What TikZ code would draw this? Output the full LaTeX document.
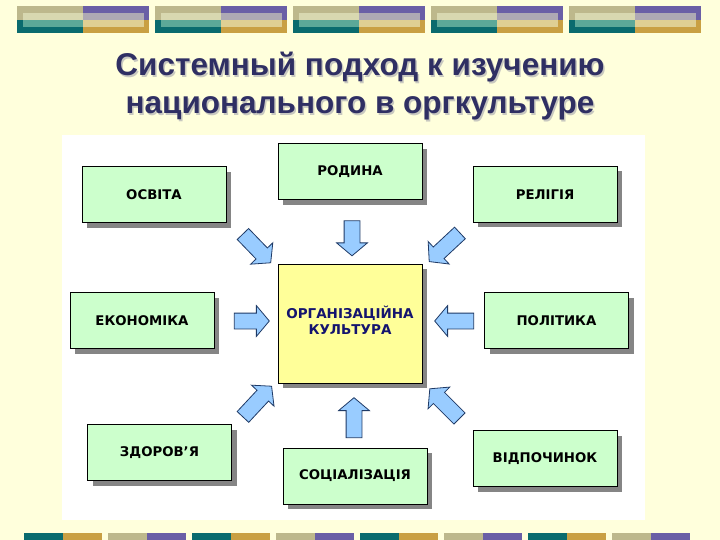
\documentclass[tikz,border=0pt]{standalone}
\usepackage{fontspec}
\setmainfont{Liberation Sans}
\newfontfamily\boxfont{DejaVu Sans}
\usetikzlibrary{shapes.arrows,shadows}
\definecolor{bg}{HTML}{FFFFDC}
\definecolor{boxgreen}{HTML}{CCFFCC}
\definecolor{boxyellow}{HTML}{FFFF99}
\definecolor{shadowgray}{HTML}{858585}
\definecolor{arrowblue}{HTML}{99CCFF}
\definecolor{arrowline}{HTML}{1F3A66}
\definecolor{titlecol}{HTML}{2F2F63}
\definecolor{titleshadow}{HTML}{C8C8C0}
\definecolor{orgtext}{HTML}{14146E}
\definecolor{khaki}{HTML}{BDB88C}
\definecolor{lkhaki}{HTML}{D8D8B0}
\definecolor{teal}{HTML}{0A6B6E}
\definecolor{lteal}{HTML}{5CA898}
\definecolor{purp}{HTML}{6A5FA6}
\definecolor{lpurp}{HTML}{AEA9B4}
\definecolor{gold}{HTML}{C9A043}
\definecolor{lgold}{HTML}{DFCF93}
\tikzset{
  greenbox/.style={draw=black, line width=1pt, fill=boxgreen, minimum width=144pt,
    minimum height=56pt, inner sep=0pt, align=center,
    font=\boxfont\bfseries\fontsize{13.3}{16}\selectfont,
    drop shadow={shadow xshift=5pt, shadow yshift=-5pt, fill=shadowgray, opacity=1}},
  orgbox/.style={greenbox, fill=boxyellow, minimum height=119pt},
  orgtextstyle/.style={text=orgtext, align=center, inner sep=0pt,
    font=\boxfont\bfseries\fontsize{13.5}{16}\selectfont},
  barrow/.style={single arrow, draw=arrowline, fill=arrowblue, line width=0.8pt,
    inner xsep=0pt, inner ysep=7.5pt, single arrow head extend=7.5pt,
    minimum height=38pt, single arrow tip angle=100},
  titletext/.style={font=\bfseries\fontsize{31.5}{36}\selectfont, anchor=base},
}
\newcommand{\topseg}[1]{%
  \fill[khaki] (#1,6) rectangle (#1+66,20);
  \fill[purp] (#1+66,6) rectangle (#1+132,20);
  \fill[teal] (#1,20) rectangle (#1+66,33);
  \fill[gold] (#1+66,20) rectangle (#1+132,33);
  \fill[lkhaki] (#1+6,13) rectangle (#1+66,20);
  \fill[lpurp] (#1+66,13) rectangle (#1+127,20);
  \fill[lteal] (#1+6,20) rectangle (#1+66,27);
  \fill[lgold] (#1+66,20) rectangle (#1+127,27);
}
\newcommand{\botseg}[1]{%
  \fill[teal] (#1,533) rectangle (#1+39,540);
  \fill[gold] (#1+39,533) rectangle (#1+78,540);
  \fill[khaki] (#1+84,533) rectangle (#1+123,540);
  \fill[purp] (#1+123,533) rectangle (#1+162,540);
}
\begin{document}
\begin{tikzpicture}[x=1pt,y=-1pt]
\useasboundingbox (0,0) rectangle (720,540);
\fill[bg] (0,0) rectangle (720,540);
% decorative bars
\topseg{17}\topseg{155}\topseg{293}\topseg{431}\topseg{569}
\botseg{24}\botseg{192}\botseg{360}\botseg{528}
% white panel
\fill[white] (62,135) rectangle (645,520);
% title
\node[titletext, text=titleshadow] (t1s) at (361.5,77.5) {Системный подход к изучению};
\node[titletext, text=titlecol] (t1) at (360,76) {Системный подход к изучению};
\node[titletext, text=titleshadow] (t2s) at (361.5,115.5) {национального в оргкультуре};
\node[titletext, text=titlecol] (t2) at (360,114) {национального в оргкультуре};
% boxes
\node[greenbox] (osvita) at (154,195) {ОСВІТА};
\node[greenbox] (rodyna) at (350,172) {РОДИНА};
\node[greenbox] (religiya) at (545,194.5) {РЕЛІГІЯ};
\node[greenbox] (ekonomika) at (142,320.5) {ЕКОНОМІКА};
\node[orgbox] (org) at (350,323.5) {};
\node[orgtextstyle] (orgtext) at (350,320) {ОРГАНІЗАЦІЙНА\\КУЛЬТУРА};
\node[greenbox] (polityka) at (556.5,320.5) {ПОЛІТИКА};
\node[greenbox] (zdorovya) at (159.5,452.5) {ЗДОРОВ’Я};
\node[greenbox] (sots) at (355,476) {СОЦІАЛІЗАЦІЯ};
\node[greenbox] (vidp) at (545,458.5) {ВІДПОЧИНОК};
% block arrows
\node[barrow, rotate=-90, minimum height=35pt] (a1) at (352,235) {};
\node[barrow, rotate=-46, minimum height=40pt] (a2) at (254.5,246) {};
\node[barrow, rotate=-137, minimum height=42pt] (a3) at (447,245) {};
\node[barrow, rotate=0, minimum height=35pt] (a4) at (248.5,321) {};
\node[barrow, rotate=180, minimum height=39pt] (a5) at (457.5,321) {};
\node[barrow, rotate=47, minimum height=42pt] (a6) at (255,404) {};
\node[barrow, rotate=90, minimum height=40pt] (a7) at (354,421) {};
\node[barrow, rotate=135, minimum height=42pt] (a8) at (447,406) {};
\end{tikzpicture}
\end{document}
